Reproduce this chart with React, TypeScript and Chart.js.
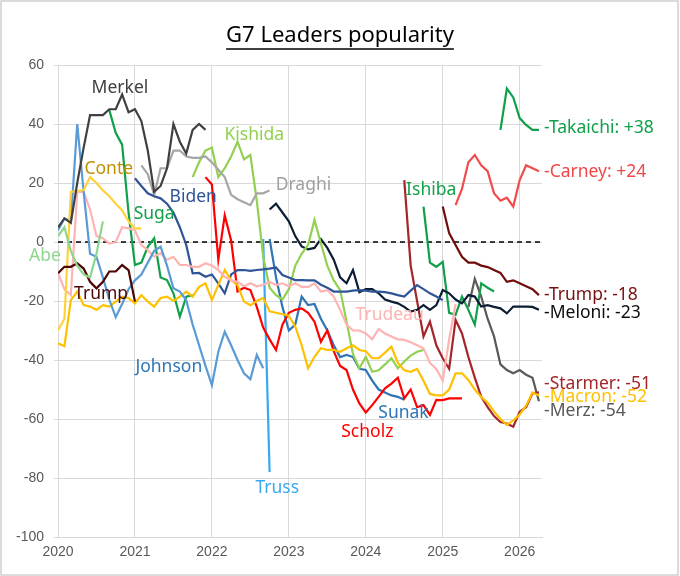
import { useEffect, useRef } from "react";
import { Chart, registerables } from "chart.js";

Chart.register(...registerables);

const TITLE = "G7 Leaders popularity";
const FONT = '"Noto Sans", sans-serif';
const TICK_FONT = '"Liberation Sans", Arial, sans-serif';

const yearTicks = [2020, 2021, 2022, 2023, 2024, 2025, 2026];
const xMin = 2020;
const xMax = 2026.29;
const yMin = -100;
const yMax = 60;

// Monthly approval balances (start month + values)
const abeStart = "2020-01";
const abe = [2, 5, -3, -8, -11, -12, -4, 7];

const trump1Start = "2020-01";
const trump1 = [-10.6, -8.4, -8.4, -7.2, -9, -13.5, -15.7, -13.5, -10, -10, -7.8, -9.5, -20.2];

const merkelStart = "2020-01";
const merkel = [5, 8, 6.5, 20, 32, 43, 43, 43, 45, 45, 50, 44, 45, 41, 31, 17, 19, 25, 40, 34, 30, 38, 40, 38];

const conteStart = "2020-01";
const conte = [-30, -26, 17, 17.3, 17.6, 22, 20, 17.5, 15.5, 13, 10.8, 7, 4.6, 4.6];

const johnsonStart = "2020-01";
const johnson = [4, 8, 7, 40, 17, -4, -5, -12, -19.5, -25.5, -21, -16, -13, -11, -7, -3, -1.6, -8, -15.7, -16.8, -19.7, -28, -35, -42, -48.5, -37.2, -30.4, -35, -40, -44.5, -46.5, -38.3, -42.8];

const trudeauStart = "2020-01";
const trudeau = [
  -10.6, -16, -18, 17, 17, 11, 2, 1.3, -0.5, 0, 5, 4.6,
  4, -1, -2.7, -5, -3.8, -6, -5, -7.8, -7.8, -8.4, -8.4, -7.2,
  -8, -9.5, -11.8, -13, -13.5, -15, -14, -15, -14.6, -13.5, -14.6, -14,
  -15, -14, -15.2, -15.2, -14, -16.8, -16.3, -18.5, -23, -28, -30, -30,
  -31, -33, -29.5, -31, -32, -33, -33.2, -34, -35, -36, -41, -43,
  -47, -33, -21,
];

const macronStart = "2020-01";
const macron = [
  -34.3, -35.3, -19.7, -16.8, -21.4, -21.9, -23, -21.4, -21.9, -20.2, -18.5, -19,
  -20.8, -18, -20.2, -21.9, -19, -18.5, -20, -18.5, -16.8, -18.5, -15.2, -14,
  -19.7, -14.6, -9.5, -12.9, -14.6, -20.2, -21.4, -20, -19, -23.5, -24, -24.5,
  -25, -28.7, -35, -42.8, -38.9, -36, -36.6, -36.6, -37.2, -36, -35, -36.6,
  -37, -39.4, -39.4, -37.5, -35.5, -41, -43.5, -44, -43, -47, -51.5, -52,
  -52, -50, -44.5, -44.5, -46.8, -50, -52.5, -54.5, -57.5, -60, -62, -60.5,
  -58.5, -55.5, -51, -52,
];

const sugaStart = "2020-09";
const suga = [44.7, 37, 33, 10, -7.8, -7, -1.6, 1.3, -12, -12.9, -17.4, -25.3, -18.5, -18];

const bidenStart = "2021-01";
const biden = [
  21.6, 19, 16.5, 15.5, 14.8, 13, 10, 5, -1, -10.6, -10.5, -11.8,
  -11, -14, -17.4, -11, -9.5, -9.5, -9.8, -9.5, -9.3, -9, -8.6, -11.2,
  -12, -12.9, -12.9, -13, -13, -14.5, -15.5, -16.8, -16.8, -16.8, -16.5, -16.3,
  -16.5, -16.8, -16.8, -17, -17.4, -18, -18.5, -16.5, -14.6, -16, -17.4, -18.5,
  -19.7,
];

const draghiStart = "2021-02";
const draghi = [26, 23, 16, 25, 25, 31, 31, 29, 28.5, 28.5, 29, 27, 24.5, 22, 16, 14.5, 13.5, 12.5, 16.5, 16.5, 17.5];

const kishidaStart = "2021-10";
const kishida = [
  22, 27, 31,
  32, 22, 25, 29, 34, 28, 29.5, 14, -5, -15.5, -18, -19.5,
  -16, -8, -4, -1, 7.5, -0.5, -8, -13, -16.3, -27, -38, -42.8,
  -39, -44, -43.5, -41.5, -39.4, -42.8, -40.5, -38.5, -37.2, -36.6,
];

const scholzStart = "2021-12";
const scholz = [
  22,
  19.5, -6, 9, 0.5, -16.8, -15.5, -16.3, -22, -29, -33, -36.6, -28,
  -24, -23, -22.5, -24, -27, -33.8, -30, -37, -42, -43.4, -50, -54.7,
  -57.8, -55.3, -52.5, -49.6, -48, -46, -53, -50, -56, -55.3, -58.6, -53.5,
  -53.6, -53, -53, -53,
];

const trussStart = "2022-09";
const truss = [1, -78];

const sunakStart = "2022-10";
const sunak = [1, -12, -22, -30, -28, -18.5, -21.4, -21, -26, -30, -35, -39, -38.3, -39, -43, -43.4, -47, -50, -51, -52, -52.5, -53.5];

const meloniStart = "2022-10";
const meloni = [
  11, 13, 10,
  7, 2, -1.5, -2.5, -2, 1, -2, -6, -12, -14, -9.5, -17,
  -16, -16, -17.4, -19.5, -20.2, -20.8, -22, -23.6, -23, -21.4, -23, -21.4,
  -16.3, -17.4, -19.5, -20.8, -18, -18.5, -21.9, -21.4, -22, -22.5, -24.2, -21.9,
  -21.9, -21.9, -22, -23,
];

const starmerStart = "2024-07";
const starmer = [21, -8, -20, -32, -27, -35, -39.4, -43, -26.4, -31, -39, -46, -52.5, -56, -59, -61, -61.5, -62.6, -57.5, -56, -51.3, -51];

const ishibaStart = "2024-10";
const ishiba = [12, -7, -8.4, -6.7, -24, -24.7, -18.5, -23, -28, -14, -15.5, -16.8];

const trump2Start = "2025-01";
const trump2 = [12, 3, -1, -5, -7, -7, -8, -8.5, -9.5, -10.5, -13.5, -13, -14, -15, -16, -18];

const carneyStart = "2025-03";
const carney = [12.5, 18, 27, 29.5, 26, 24, 16.5, 14, 15, 12, 21, 26, 25, 24];

const merzStart = "2025-05";
const merz = [-22, -12.5, -18.5, -26, -32, -41.5, -43.4, -44.5, -43.4, -45, -46, -54];

const takaichiStart = "2025-10";
const takaichi = [38, 52, 49, 42, 39.7, 38, 38];

const series = [
  { label: "Abe", start: abeStart, values: abe, color: "#8ed68e" },
  { label: "Trump (1st)", start: trump1Start, values: trump1, color: "#4d0505" },
  { label: "Merkel", start: merkelStart, values: merkel, color: "#404040" },
  { label: "Conte", start: conteStart, values: conte, color: "#ffd23c" },
  { label: "Johnson", start: johnsonStart, values: johnson, color: "#5b9bd5" },
  { label: "Trudeau", start: trudeauStart, values: trudeau, color: "#ffb3b3" },
  { label: "Macron", start: macronStart, values: macron, color: "#ffc000" },
  { label: "Suga", start: sugaStart, values: suga, color: "#11a04a" },
  { label: "Biden", start: bidenStart, values: biden, color: "#2f5597" },
  { label: "Draghi", start: draghiStart, values: draghi, color: "#a6a6a6" },
  { label: "Kishida", start: kishidaStart, values: kishida, color: "#92d050" },
  { label: "Scholz", start: scholzStart, values: scholz, color: "#ff0000" },
  { label: "Truss", start: trussStart, values: truss, color: "#3aa8f0" },
  { label: "Sunak", start: sunakStart, values: sunak, color: "#2e75b6" },
  { label: "Meloni", start: meloniStart, values: meloni, color: "#0b1d33" },
  { label: "Starmer", start: starmerStart, values: starmer, color: "#a5262a" },
  { label: "Ishiba", start: ishibaStart, values: ishiba, color: "#11a04a" },
  { label: "Trump", start: trump2Start, values: trump2, color: "#700c0c" },
  { label: "Carney", start: carneyStart, values: carney, color: "#f24b4b" },
  { label: "Merz", start: merzStart, values: merz, color: "#595959" },
  { label: "Takaichi", start: takaichiStart, values: takaichi, color: "#11a04a" },
];

// Name annotations (data coordinates)
const nameLabels = [
  { text: "Merkel", x: 2020.805, y: 52.2, color: "#404040" },
  { text: "Conte", x: 2020.66, y: 24.7, color: "#bf9000" },
  { text: "Biden", x: 2021.757, y: 15.4, color: "#2f5597" },
  { text: "Suga", x: 2021.25, y: 9.5, color: "#11a04a" },
  { text: "Kishida", x: 2022.55, y: 36.1, color: "#92d050" },
  { text: "Draghi", x: 2023.19, y: 19.2, color: "#a0a0a0" },
  { text: "Ishiba", x: 2024.85, y: 17.7, color: "#11a04a" },
  { text: "Abe", x: 2019.83, y: -4.75, color: "#8ed68e" },
  { text: "Trump", x: 2020.56, y: -17.5, color: "#4d0505" },
  { text: "Johnson", x: 2021.44, y: -42.3, color: "#2e75b6" },
  { text: "Trudeau", x: 2024.31, y: -24.7, color: "#ffb3b3" },
  { text: "Sunak", x: 2024.49, y: -58.1, color: "#2e75b6" },
  { text: "Scholz", x: 2024.02, y: -64.3, color: "#ff0000" },
  { text: "Truss", x: 2022.85, y: -83.5, color: "#3aa8f0" },
];

const endLabels = [
  { text: "-Takaichi: +38", y: 38.5, color: "#11a04a" },
  { text: "-Carney: +24", y: 23.8, color: "#f04848" },
  { text: "-Trump: -18", y: -18, color: "#7a1010" },
  { text: "-Meloni: -23", y: -24.1, color: "#0d0d0d" },
  { text: "-Starmer: -51", y: -48.1, color: "#a5262a" },
  { text: "-Macron: -52", y: -52.4, color: "#ffc000" },
  { text: "-Merz: -54", y: -57.3, color: "#595959" },
];

function toPoints(start: string, values: number[]) {
  const [yy, mm] = start.split("-").map(Number);
  return values.map((v, i) => ({ x: yy + (mm - 1 + i) / 12, y: v }));
}

const overlayPlugin = {
  id: "overlay",
  beforeDraw(chart: any) {
    const ctx = chart.ctx;
    ctx.save();
    ctx.fillStyle = "#ffffff";
    ctx.fillRect(0, 0, chart.width, chart.height);
    ctx.strokeStyle = "#d0d0d0";
    ctx.lineWidth = 1.5;
    ctx.strokeRect(1, 1, 677, 574);
    ctx.restore();
  },
  afterDraw(chart: any) {
    const { ctx, chartArea } = chart;
    const xs = chart.scales.x;
    const ys = chart.scales.y;
    ctx.save();
    ctx.font = `22px ${FONT}`;
    ctx.fillStyle = "#000000";
    ctx.textAlign = "center";
    ctx.textBaseline = "alphabetic";
    ctx.fillText(TITLE, 340, 42);
    const w = ctx.measureText(TITLE).width;
    ctx.beginPath();
    ctx.moveTo(340 - w / 2, 49);
    ctx.lineTo(340 + w / 2, 49);
    ctx.lineWidth = 1.5;
    ctx.strokeStyle = "#000000";
    ctx.stroke();

    ctx.font = `17.5px ${FONT}`;
    ctx.textBaseline = "middle";
    ctx.textAlign = "center";
    for (const l of nameLabels) {
      ctx.fillStyle = l.color;
      ctx.fillText(l.text, xs.getPixelForValue(l.x), ys.getPixelForValue(l.y));
    }
    ctx.textAlign = "left";
    for (const l of endLabels) {
      ctx.fillStyle = l.color;
      ctx.fillText(l.text, chartArea.right + 2, ys.getPixelForValue(l.y));
    }
    ctx.restore();
  },
};

export default function App() {
  const ref = useRef<HTMLCanvasElement | null>(null);

  useEffect(() => {
    document.body.style.margin = "0";
    const canvas = ref.current;
    if (!canvas) return;

    const datasets: any[] = series.map((s) => ({
      label: s.label,
      data: toPoints(s.start, s.values),
      borderColor: s.color,
      backgroundColor: s.color,
      borderWidth: 2.2,
      pointRadius: 0,
      tension: 0,
      fill: false,
    }));
    datasets.push({
      label: "zero",
      data: [
        { x: xMin, y: 0 },
        { x: xMax, y: 0 },
      ],
      borderColor: "#000000",
      borderWidth: 1.5,
      borderDash: [5, 4],
      pointRadius: 0,
      fill: false,
    });

    const chart = new Chart(canvas, {
      type: "line",
      data: { datasets },
      options: {
        animation: false,
        responsive: false,
        devicePixelRatio: 1,
        layout: { padding: { top: 65, right: 138, bottom: 0, left: 0 } },
        plugins: {
          legend: { display: false },
          tooltip: { enabled: false },
          title: { display: false },
        },
        scales: {
          x: {
            type: "linear",
            min: xMin,
            max: xMax,
            afterBuildTicks: (s: any) => {
              s.ticks = yearTicks.map((v) => ({ value: v }));
            },
            afterFit: (s: any) => {
              s.height = 39;
            },
            grid: { color: "#d9d9d9", lineWidth: 1, drawTicks: false },
            border: { color: "#d9d9d9" },
            ticks: {
              padding: 7,
              color: "#595959",
              font: { family: TICK_FONT, size: 14 },
              callback: (v: any) => String(v),
            },
          },
          y: {
            min: yMin,
            max: yMax,
            afterFit: (s: any) => {
              s.width = 58;
            },
            grid: { color: "#d9d9d9", lineWidth: 1, tickLength: 4 },
            border: { color: "#d9d9d9" },
            ticks: {
              stepSize: 20,
              padding: 10,
              color: "#595959",
              font: { family: TICK_FONT, size: 14 },
            },
          },
        },
      },
      plugins: [overlayPlugin],
    });

    return () => chart.destroy();
  }, []);

  return (
    <div style={{ width: 680, height: 576, position: "relative" }}>
      <canvas ref={ref} width={680} height={576} style={{ display: "block" }} />
    </div>
  );
}
